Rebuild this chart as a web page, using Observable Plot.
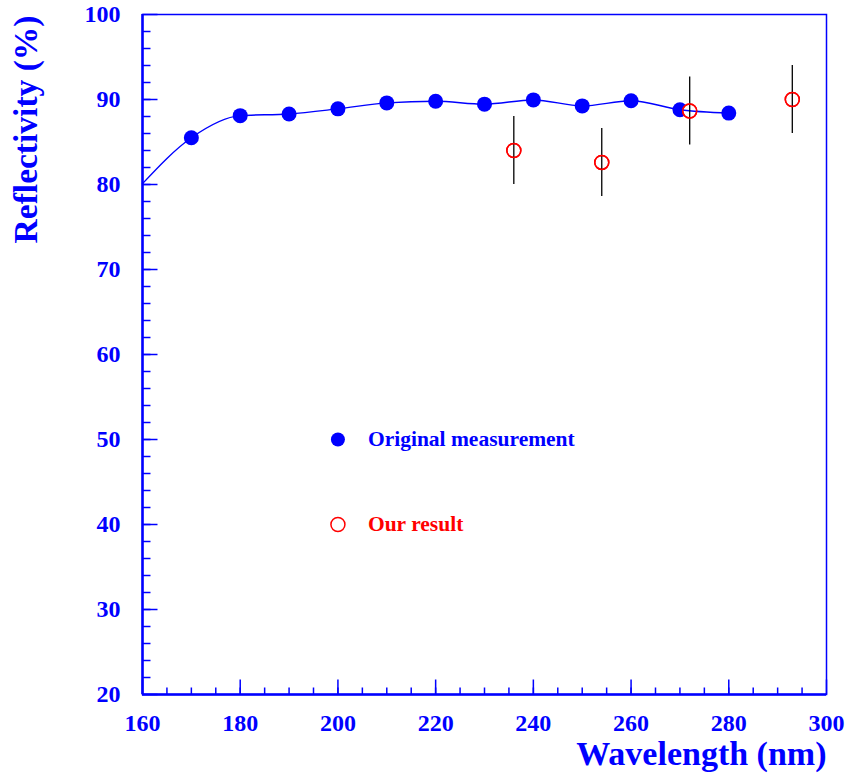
<!DOCTYPE html>
<html>
<head>
<meta charset="utf-8">
<script src="https://cdn.jsdelivr.net/npm/d3@7"></script>
<script src="https://cdn.jsdelivr.net/npm/@observablehq/plot@0.6"></script>
<style>
  html, body { margin: 0; padding: 0; background: #fff; }
  #chart svg { display: block; }
</style>
</head>
<body>
<div id="chart"></div>
<script>
// ---- data ----
const origWavelength = [170, 180, 190, 200, 210, 220, 230, 240, 250, 260, 270, 280];
const origReflectivity = [85.5, 88.1, 88.3, 88.9, 89.6, 89.8, 89.45, 89.95, 89.25, 89.85, 88.8, 88.4];
const curveStart = { wavelength: 160, reflectivity: 80.1 };

const ourWavelength = [236, 254, 272, 293];
const ourReflectivity = [84.0, 82.6, 88.65, 90.0];
const ourError = [4, 4, 4, 4];

const xMajorTicks = [160, 180, 200, 220, 240, 260, 280, 300];
const yMajorTicks = [20, 30, 40, 50, 60, 70, 80, 90, 100];
const xMinorTicks = d3.range(165, 300, 5);
const yMinorTicks = d3.range(22, 100, 2);

const legendLabels = ["Original measurement", "Our result"];
const xTitle = "Wavelength (nm)";
const yTitle = "Reflectivity (%)";

// ---- build tables ----
const orig = origWavelength.map((w, i) => ({ w, r: origReflectivity[i] }));
const curve = [{ w: curveStart.wavelength, r: curveStart.reflectivity }, ...orig];
const ours = ourWavelength.map((w, i) => ({ w, r: ourReflectivity[i], e: ourError[i] }));

const BLUE = "#0000ff";
const RED = "#ff0000";

function tickSymbol(dx, dy) {
  return { draw(ctx) { ctx.moveTo(0, 0); ctx.lineTo(dx, dy); } };
}

const chart = Plot.plot({
  width: 851,
  height: 774,
  marginLeft: 142,
  marginRight: 25,
  marginTop: 14,
  marginBottom: 80,
  style: { fontFamily: "'Liberation Serif', 'Times New Roman', serif", fontWeight: "bold", color: BLUE, background: "#fff" },
  x: { domain: [160, 300] },
  y: { domain: [20, 100] },
  marks: [
    // tick labels
    Plot.axisX({ ticks: xMajorTicks, tickSize: 0, tickPadding: 19, fontSize: 24, fontWeight: "bold", fill: BLUE, label: null }),
    Plot.axisY({ ticks: yMajorTicks, tickSize: 0, tickPadding: 22, fontSize: 24, fontWeight: "bold", fill: BLUE, label: null }),
    // inward ticks
    Plot.dot(xMinorTicks, { x: d => d, frameAnchor: "bottom", symbol: tickSymbol(0, -7), fill: "none", stroke: BLUE, strokeWidth: 1.5 }),
    Plot.dot(xMajorTicks, { x: d => d, frameAnchor: "bottom", symbol: tickSymbol(0, -15), fill: "none", stroke: BLUE, strokeWidth: 1.5 }),
    Plot.dot(yMinorTicks, { y: d => d, frameAnchor: "left", symbol: tickSymbol(8, 0), fill: "none", stroke: BLUE, strokeWidth: 1.5 }),
    Plot.dot(yMajorTicks, { y: d => d, frameAnchor: "left", symbol: tickSymbol(15, 0), fill: "none", stroke: BLUE, strokeWidth: 1.5 }),
    Plot.frame({ stroke: BLUE, strokeWidth: 1.5 }),
    Plot.ruleX([160], { stroke: BLUE, strokeWidth: 2.5 }),
    Plot.ruleY([20], { stroke: BLUE, strokeWidth: 2.5 }),
    // original measurement
    Plot.dot(orig, { x: "w", y: "r", r: 7.5, fill: BLUE, stroke: "none" }),
    // our result circles (white fill)
    Plot.dot(ours, { x: "w", y: "r", r: 7, fill: "#fff", stroke: RED, strokeWidth: 1.5 }),
    // smooth curve
    Plot.line(curve, { x: "w", y: "r", curve: "monotone-x", stroke: BLUE, strokeWidth: 1.4 }),
    // error bars
    Plot.ruleX(ours, { x: "w", y1: d => d.r - d.e, y2: d => d.r + d.e, stroke: "#000", strokeWidth: 1.3 }),
    Plot.dot(ours, { x: "w", y: "r", r: 7, fill: "none", stroke: RED, strokeWidth: 1.5 }),
    // legend
    Plot.dot([{ x: 200, y: 50 }], { x: "x", y: "y", r: 7, fill: BLUE, stroke: "none" }),
    Plot.text([{ x: 200, y: 50, t: legendLabels[0] }], { x: "x", y: "y", text: "t", dx: 30, textAnchor: "start", lineAnchor: "middle", fontSize: 21.5, fontWeight: "bold", fill: BLUE }),
    Plot.dot([{ x: 200, y: 40 }], { x: "x", y: "y", r: 7, fill: "#fff", stroke: RED, strokeWidth: 1.5 }),
    Plot.text([{ x: 200, y: 40, t: legendLabels[1] }], { x: "x", y: "y", text: "t", dx: 30, textAnchor: "start", lineAnchor: "middle", fontSize: 21.5, fontWeight: "bold", fill: RED }),
    // axis titles
    Plot.text([xTitle], { text: d => d, frameAnchor: "bottom-right", dy: 60, textAnchor: "end", lineAnchor: "middle", fontSize: 34, fontWeight: "bold", fill: BLUE }),
    Plot.text([yTitle], { text: d => d, frameAnchor: "top-left", dx: -116, dy: 1, rotate: -90, textAnchor: "end", lineAnchor: "middle", fontSize: 33.5, fontWeight: "bold", fill: BLUE })
  ]
});
document.getElementById("chart").appendChild(chart);
</script>
</body>
</html>
